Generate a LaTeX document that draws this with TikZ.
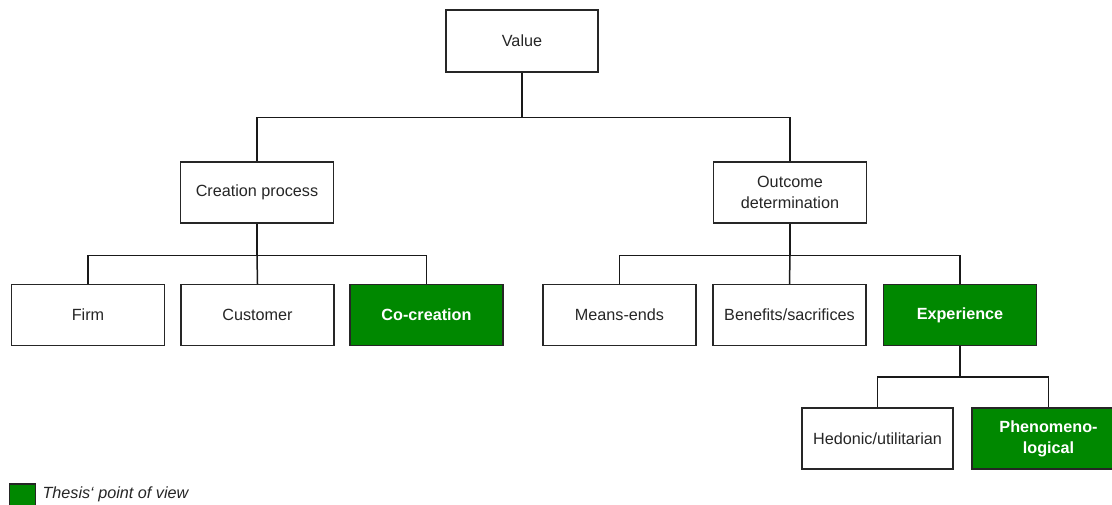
\documentclass[tikz,border=0pt]{standalone}
\usepackage{fontspec}
\setmainfont{Liberation Sans}
\begin{document}
\begin{tikzpicture}[x=1pt,y=-1pt,
  box/.style={draw=black!85, line width=1.4pt, fill=white, minimum width=153pt,
    minimum height=61pt, inner sep=2pt, align=center, text=black!85,
    font=\fontsize{16.2}{21}\selectfont},
  greenbox/.style={box, fill=thesisgreen, text=white, font=\fontsize{16.2}{21}\selectfont\bfseries},
  link/.style={draw=black!90, line width=1.5pt}]
\definecolor{thesisgreen}{HTML}{008800}
\clip (0,0) rectangle (1112,504);
\fill[white] (0,0) rectangle (1112,504);

% tree nodes
\node[box, minimum width=152pt, minimum height=62pt] (value) at (522,41) {Value};
\node[box] (creation) at (257,192.5) {Creation process};
\node[box] (outcome) at (790,192.5) {Outcome\\determination};
\node[box] (firm) at (88,315) {Firm};
\node[box] (customer) at (257.5,315) {Customer};
\node[greenbox] (cocreation) at (426.5,315) {Co-creation};
\node[box] (meansends) at (619.5,315) {Means-ends};
\node[box] (benefits) at (789.5,315) {Benefits/sacrifices};
\node[greenbox] (experience) at (960,315) {Experience};
\node[box, minimum width=151pt] (hedonic) at (877.5,438.5) {Hedonic/utilitarian};
\node[greenbox] (phenom) at (1048.5,438.5) {Phenomeno-\\logical};

% connectors
\draw[link] (value.south) -- ++(0,45) coordinate (vbar) -| (creation.north);
\draw[link] (vbar) -| (outcome.north);
\draw[link] (creation.south) -- ++(0,32) coordinate (cbar) -| (firm.north);
\draw[link] (cbar) -- (customer.north);
\draw[link] (cbar) -| (cocreation.north);
\draw[link] (outcome.south) -- ++(0,32) coordinate (obar) -| (meansends.north);
\draw[link] (obar) -- (benefits.north);
\draw[link] (obar) -| (experience.north);
\draw[link] (experience.south) -- ++(0,31) coordinate (ebar) -| (hedonic.north);
\draw[link] (ebar) -| (phenom.north);

% legend
\node[draw=black!85, line width=1.4pt, fill=thesisgreen, minimum size=26pt, inner sep=0pt]
  (legendkey) at (22.5,497) {};
\node[anchor=west, text=black!85, font=\fontsize{16.2}{19.5}\selectfont\itshape]
  (legendtext) at (39,494) {Thesis‘ point of view};
\end{tikzpicture}
\end{document}
